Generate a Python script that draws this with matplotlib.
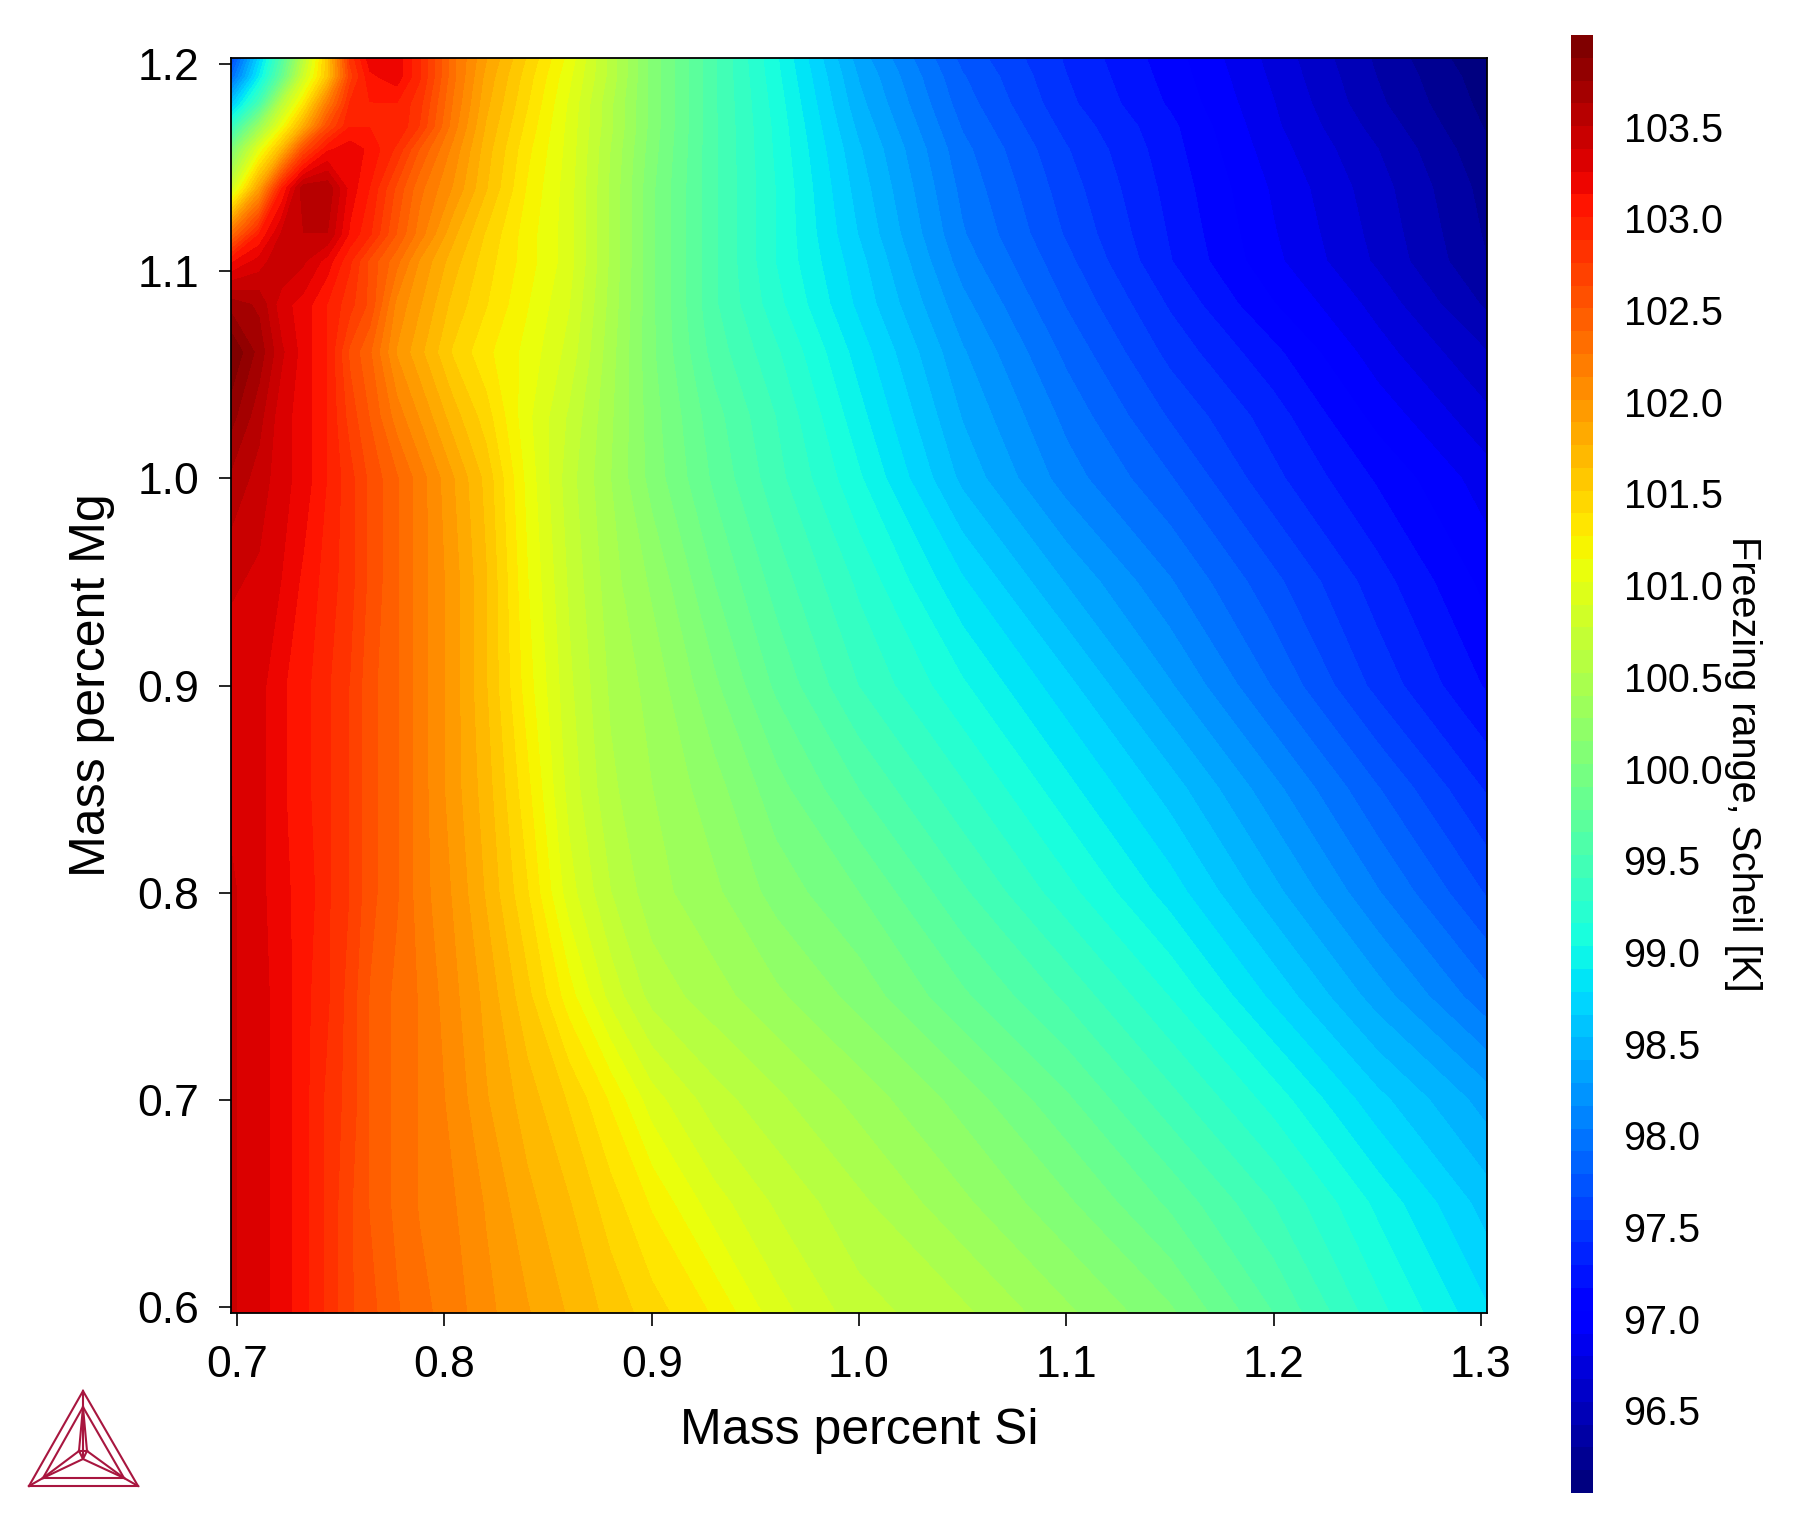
#!/usr/bin/env python3

import numpy as np
import matplotlib
matplotlib.use('Agg')
import matplotlib.pyplot as plt

plt.rcParams['font.family'] = ['Liberation Sans', 'DejaVu Sans']

# freezing range, one row per Mg value, one column per Si value
si = [0.697, 0.7105, 0.7215, 0.732, 0.7435, 0.7545, 0.764, 0.777, 0.788, 0.804, 0.82, 0.84,
      0.86, 0.88, 0.90, 0.93, 0.96, 1.0, 1.05, 1.1, 1.15, 1.2, 1.25, 1.303]
mg = [1.203, 1.194, 1.181, 1.17, 1.159, 1.14, 1.118, 1.105, 1.084, 1.061, 1.03, 1.0,
      0.95, 0.9, 0.85, 0.8, 0.75, 0.7, 0.65, 0.597]
freezing = [
    [97.6, 98.7, 99.6, 100.6, 101.6, 102.8, 103.2, 103.2, 102.9, 102.3, 101.9, 101.5, 101.1, 100.6, 100.1, 99.55, 99.05, 98.35, 97.75, 97.4, 97.1, 96.75, 96.4, 96.06],
    [97.9, 98.9, 99.8, 100.8, 101.6, 102.7, 103.1, 103.2, 102.9, 102.3, 101.85, 101.45, 101.05, 100.6, 100.1, 99.55, 99.07, 98.4, 97.8, 97.42, 97.12, 96.77, 96.42, 96.1],
    [98.6, 99.5, 100.6, 101.3, 102.2, 102.9, 103.0, 103.0, 102.8, 102.25, 101.8, 101.4, 101.0, 100.55, 100.1, 99.55, 99.1, 98.45, 97.85, 97.45, 97.15, 96.8, 96.45, 96.13],
    [99.3, 100.3, 101.1, 101.8, 102.6, 103.0, 103.0, 103.0, 102.75, 102.2, 101.75, 101.35, 100.98, 100.55, 100.1, 99.55, 99.12, 98.5, 97.9, 97.5, 97.2, 96.82, 96.5, 96.16],
    [100.0, 101.0, 101.7, 102.6, 103.1, 103.2, 103.1, 102.85, 102.5, 102.1, 101.7, 101.3, 100.97, 100.52, 100.08, 99.55, 99.13, 98.55, 97.95, 97.55, 97.22, 96.85, 96.55, 96.2],
    [100.8, 101.9, 103.0, 103.6, 103.6, 103.2, 103.0, 102.6, 102.3, 102.0, 101.65, 101.25, 100.95, 100.5, 100.05, 99.55, 99.15, 98.6, 98.0, 97.6, 97.25, 96.9, 96.6, 96.25],
    [102.3, 103.0, 103.4, 103.5, 103.5, 103.1, 102.9, 102.5, 102.2, 101.8, 101.5, 101.2, 100.95, 100.5, 100.05, 99.55, 99.15, 98.65, 98.05, 97.65, 97.28, 96.93, 96.63, 96.28],
    [103.1, 103.3, 103.5, 103.4, 103.2, 102.9, 102.6, 102.3, 102.0, 101.7, 101.45, 101.2, 100.95, 100.5, 100.05, 99.55, 99.15, 98.7, 98.1, 97.7, 97.3, 96.95, 96.65, 96.3],
    [103.7, 103.6, 103.3, 103.2, 103.0, 102.8, 102.6, 102.1, 101.9, 101.6, 101.4, 101.15, 100.9, 100.48, 100.05, 99.55, 99.2, 98.75, 98.2, 97.78, 97.4, 97.05, 96.75, 96.4],
    [104.0, 103.7, 103.4, 103.2, 103.0, 102.6, 102.4, 102.0, 101.8, 101.5, 101.3, 101.1, 100.85, 100.45, 100.05, 99.6, 99.3, 98.85, 98.3, 97.88, 97.5, 97.2, 96.85, 96.55],
    [103.8, 103.55, 103.3, 103.2, 103.0, 102.7, 102.5, 102.2, 102.0, 101.7, 101.45, 101.05, 100.75, 100.42, 100.08, 99.7, 99.4, 98.95, 98.4, 98.0, 97.65, 97.35, 97.0, 96.7],
    [103.6, 103.45, 103.3, 103.2, 103.0, 102.8, 102.6, 102.4, 102.2, 101.9, 101.6, 101.1, 100.7, 100.4, 100.1, 99.75, 99.45, 99.05, 98.5, 98.1, 97.8, 97.45, 97.15, 96.85],
    [103.4, 103.35, 103.25, 103.1, 102.95, 102.8, 102.6, 102.4, 102.2, 101.95, 101.65, 101.15, 100.75, 100.45, 100.25, 99.9, 99.6, 99.25, 98.8, 98.4, 98.05, 97.7, 97.35, 97.0],
    [103.3, 103.3, 103.15, 103.05, 102.9, 102.75, 102.55, 102.4, 102.2, 101.95, 101.65, 101.2, 100.8, 100.5, 100.35, 100.05, 99.75, 99.4, 99.05, 98.7, 98.3, 97.9, 97.5, 97.15],
    [103.35, 103.3, 103.15, 103.05, 102.9, 102.75, 102.55, 102.4, 102.2, 101.95, 101.7, 101.3, 100.85, 100.55, 100.4, 100.2, 99.95, 99.65, 99.3, 98.95, 98.6, 98.2, 97.8, 97.4],
    [103.4, 103.3, 103.15, 103.1, 102.9, 102.75, 102.55, 102.4, 102.2, 102.0, 101.75, 101.4, 100.95, 100.65, 100.45, 100.3, 100.1, 99.9, 99.55, 99.2, 98.85, 98.45, 98.05, 97.65],
    [103.4, 103.3, 103.2, 103.05, 102.9, 102.7, 102.5, 102.35, 102.25, 102.05, 101.85, 101.55, 101.2, 100.85, 100.6, 100.45, 100.3, 100.1, 99.8, 99.5, 99.15, 98.75, 98.35, 97.95],
    [103.4, 103.3, 103.2, 103.05, 102.85, 102.7, 102.5, 102.35, 102.25, 102.1, 101.9, 101.7, 101.5, 101.25, 100.95, 100.7, 100.55, 100.35, 100.1, 99.8, 99.45, 99.1, 98.7, 98.35],
    [103.4, 103.3, 103.2, 103.05, 102.85, 102.65, 102.5, 102.35, 102.25, 102.15, 102.0, 101.8, 101.65, 101.45, 101.25, 100.95, 100.75, 100.55, 100.3, 100.05, 99.75, 99.4, 99.0, 98.6],
    [103.4, 103.3, 103.2, 103.05, 102.85, 102.65, 102.55, 102.4, 102.3, 102.2, 102.05, 101.9, 101.75, 101.6, 101.45, 101.25, 100.95, 100.7, 100.55, 100.3, 100.05, 99.65, 99.2, 98.8],
]
x_ticks = [0.7, 0.8, 0.9, 1.0, 1.1, 1.2, 1.3]
y_ticks = [0.6, 0.7, 0.8, 0.9, 1.0, 1.1, 1.2]
cbar_ticks = [96.5, 97.0, 97.5, 98.0, 98.5, 99.0, 99.5, 100.0, 100.5, 101.0, 101.5, 102.0, 102.5, 103.0, 103.5]

W, H = 1815, 1517


def pix_axes(left, top, right, bottom):
    return [left / W, 1 - bottom / H, (right - left) / W, (bottom - top) / H]


fig = plt.figure(figsize=(W / 100, H / 100), dpi=100)
ax = fig.add_axes(pix_axes(231, 58, 1487, 1313))

levels = np.linspace(96.05, 104.0, 65)
cs = ax.contourf(si, mg, freezing, levels=levels, cmap=plt.get_cmap('jet', 64))

ax.set_xlim(0.697, 1.303)
ax.set_ylim(0.597, 1.203)
ax.set_xticks(x_ticks)
ax.set_yticks(y_ticks)
ax.set_xticklabels(['%.1f' % t for t in x_ticks])
ax.set_yticklabels(['%.1f' % t for t in y_ticks])
ax.tick_params(length=9, width=1.2, labelsize=32, pad=14)
for s in ax.spines.values():
    s.set_linewidth(1.3)
ax.set_xlabel('Mass percent Si', fontsize=36, labelpad=16)
ax.set_ylabel('Mass percent Mg', fontsize=36, labelpad=16)

cax = fig.add_axes(pix_axes(1571, 35, 1593, 1493))
cb = fig.colorbar(cs, cax=cax)
cb.outline.set_visible(False)
cb.set_ticks(cbar_ticks)
cb.set_ticklabels(['%.1f' % t for t in cbar_ticks])
cax.tick_params(length=0, labelsize=28.5, pad=22)
cb.set_label('Freezing range, Scheil [K]', fontsize=28.5, rotation=270, labelpad=28)

# Thermo-Calc logo, drawn in pixel space
logo = fig.add_axes([0, 0, 1, 1], facecolor='none')
logo.set_xlim(0, W)
logo.set_ylim(H, 0)
logo.axis('off')
logo_segments = [
    [(29, 1486), (83, 1391), (138, 1486), (29, 1486)],
    [(43, 1478), (83, 1407), (124, 1478), (43, 1478)],
    [(83, 1391), (83, 1407)],
    [(29, 1486), (43, 1478)],
    [(138, 1486), (124, 1478)],
    [(83, 1407), (83, 1459), (43, 1478)],
    [(83, 1459), (124, 1478)],
    [(83, 1407), (79, 1451), (43, 1478)],
    [(83, 1407), (87, 1451), (124, 1478)],
    [(79, 1451), (87, 1451), (83, 1459), (79, 1451)],
]
for seg in logo_segments:
    px, py = zip(*seg)
    logo.plot(px, py, color='#A8163F', lw=1.5, solid_joinstyle='miter')

fig.savefig('out.png', dpi=100)
